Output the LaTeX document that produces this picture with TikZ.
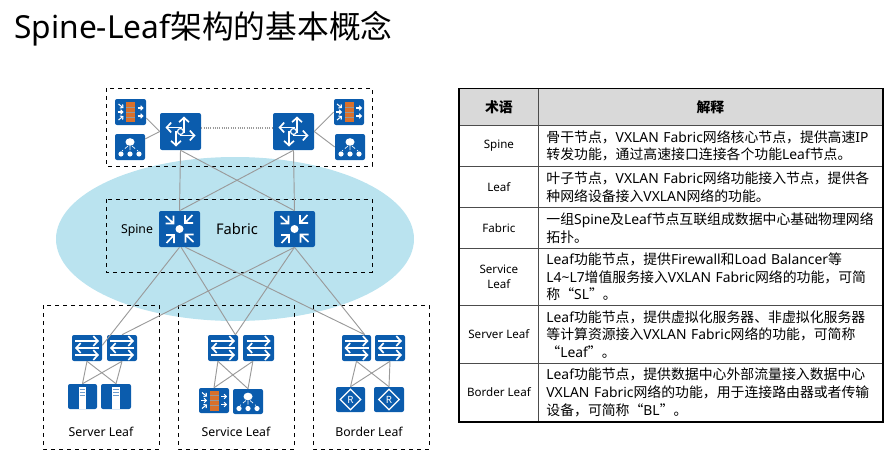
\documentclass[tikz,border=0pt]{standalone}
\usepackage{fontspec}
\setmainfont{Noto Sans}
\newfontfamily\cjk{Noto Sans CJK SC}
\newcommand{\zh}[1]{{\cjk #1}}
\usetikzlibrary{arrows.meta,shapes.geometric}
\definecolor{iconblue}{HTML}{0B5CAD}
\definecolor{wallorange}{HTML}{D9702B}
\definecolor{fabricblue}{HTML}{BAE3EF}
\definecolor{linkgray}{HTML}{9A9A9A}
\definecolor{headgray}{HTML}{D9D9D9}
\tikzset{
	iconbox/.style 2 args={draw=none, fill=iconblue, rounded corners=1.5pt, inner sep=0pt, minimum width=#1*0.75pt, minimum height=#2*0.75pt},
	zonebox/.style={draw=black, dashed, line width=0.6pt},
	link/.style={draw=linkgray, line width=0.7pt},
	glyph/.style={draw=white, line width=1.25pt},
	tip/.style={-{Straight Barb[length=3.4pt,width=7.4pt]}},
	smalltip/.style={-{Straight Barb[length=1.6pt,width=3.4pt]}, line width=0.8pt},
	termcell/.style 2 args={draw=black!70, line width=0.6pt, anchor=north west, inner sep=0pt, align=center, minimum width=79*0.75pt, minimum height=#1*0.75pt, font=\fontsize{8.7}{11.2}\selectfont, fill=#2},
	desccell/.style 2 args={draw=black!70, line width=0.6pt, anchor=north west, inner xsep=6pt, inner ysep=0pt, align=left, text width=328*0.75pt, minimum height=#1*0.75pt, font=\fontsize{10.4}{13.3}\selectfont, fill=#2},
}
\begin{document}
\begin{tikzpicture}[x=0.75pt,y=-0.75pt]
	\useasboundingbox (0,0) rectangle (892,460);
	\node[anchor=west, inner sep=0pt, font=\fontsize{23.8}{28}\selectfont] (title) at (14,29) {Spine-Leaf\zh{架构的基本概念}};

	\node[ellipse, fill=fabricblue, inner sep=0pt, minimum width=358*0.75pt, minimum height=164*0.75pt] (fabric) at (235,239) {};

	\draw[zonebox] (106,88) rectangle (372,166);
	\draw[zonebox] (106,199) rectangle (372,272);
	\draw[zonebox] (43,305) rectangle (159,449);
	\draw[zonebox] (178,305) rectangle (294,449);
	\draw[zonebox] (313,305) rectangle (429,449);

	\node[iconbox={41}{37}] (rtA) at (180.5,131.5) {};
	\node[iconbox={41}{37}] (rtB) at (293.5,131.5) {};
	\node[iconbox={41}{36}] (spA) at (179.5,229) {};
	\node[iconbox={41}{36}] (spB) at (294.5,229) {};

	\node[iconbox={31}{26}] (fwA) at (130.5,112) {};
	\node[iconbox={30}{26}] (lbA) at (130,147) {};
	\node[iconbox={30}{26}] (fwB) at (349,112) {};
	\node[iconbox={30}{26}] (lbB) at (350,147) {};

	\node[iconbox={30}{26}] (swA) at (87,348) {};
	\node[iconbox={30}{26}] (swB) at (122,348) {};
	\node[iconbox={30}{26}] (swC) at (223,348) {};
	\node[iconbox={31}{26}] (swD) at (258.5,348) {};
	\node[iconbox={29}{26}] (swE) at (356.5,348) {};
	\node[iconbox={30}{26}] (swF) at (390,348) {};

	\node[iconbox={29}{25}] (srvA) at (82.5,396.5) {};
	\node[iconbox={30}{25}] (srvB) at (116,396.5) {};
	\node[iconbox={30}{25}] (fwC) at (214,400.5) {};
	\node[iconbox={30}{25}] (lbC) at (248,401.5) {};
	\node[iconbox={29}{25}] (brA) at (350.5,399.5) {};
	\node[iconbox={30}{25}] (brB) at (389,399.5) {};

	\draw[link, densely dotted, line width=1pt] (rtA.10) -- (rtB.170);
	\draw[link] (fwA.-21) -- (rtA.west);
	\draw[link] (lbA.28) -- (rtA.west);
	\draw[link] (fwB.west) -- (rtB.east);
	\draw[link] (lbB.west) -- (rtB.east);
	\draw[link] (rtA.south) -- (spA.north);
	\draw[link] (rtA.south) -- (spB.north);
	\draw[link] (rtB.south) -- (spA.north);
	\draw[link] (rtB.south) -- (spB.north);

	\draw[link] (spA.south) -- (swA.10);
	\draw[link] (spB.south) -- (swB.north);
	\draw[link] (spA.-85) -- (swC.47);
	\draw[link] (spB.south) -- (swC.47);
	\draw[link] (spA.-72) -- (swE.58);
	\draw[link] (spB.south) -- (swE.58);

	\draw[link] (swA.south) -- (srvA.north);
	\draw[link] (swA.south) -- (srvB.north);
	\draw[link] (swB.south) -- (srvA.north);
	\draw[link] (swB.south) -- (srvB.north);
	\draw[link] (swC.-111) -- (fwC.north);
	\draw[link] (swC.-111) -- (lbC.north);
	\draw[link] (swD.-113) -- (fwC.north);
	\draw[link] (swD.-113) -- (lbC.north);
	\draw[link] (swE.south) -- (brA.north);
	\draw[link] (swE.south) -- (brB.north);
	\draw[link] (swF.south) -- (brA.north);
	\draw[link] (swF.south) -- (brB.north);

	\foreach \n in {rtA,rtB} {
		\begin{scope}[shift={(\n.center)}]
			\draw[glyph,tip] (3.5,1) -- (3.5,-15);
			\draw[glyph,tip] (-4.5,-1) -- (-4.5,15);
			\draw[glyph,tip] (1,-4) -- (-15,-4);
			\draw[glyph,tip] (-1,4) -- (15,4);
			\draw[glyph,fill=iconblue,line width=0.9pt] (0,0) circle (3);
		\end{scope}
	}
	\foreach \n in {spA,spB} {
		\begin{scope}[shift={(\n.center)}]
			\foreach \r in {0,90,180,270} {
				\draw[glyph,rotate=\r] (-14,-13) -- (-6,-5.5) (-14,-5.5) -- (-6,-5.5) -- (-6,-13.5);
			}
			\fill[white] (0,0) circle (4);
		\end{scope}
	}
	\foreach \n in {swA,swB,swC,swD,swE,swF} {
		\begin{scope}[shift={(\n.center)}]
			\draw[glyph,tip] (-12,-7) -- (12,-7);
			\draw[glyph,tip] (12,0) -- (-12,0);
			\draw[glyph,tip] (-12,7) -- (12,7);
		\end{scope}
	}
	\foreach \n in {fwA,fwB,fwC} {
		\begin{scope}[shift={(\n.center)}]
			\fill[wallorange] (-4.5,-10) rectangle (4.5,10);
			\foreach \y in {-5,0,5} {
				\draw[black!40,line width=0.25pt] (-4.5,\y) -- (4.5,\y);
			}
			\draw[glyph,smalltip] (-12,-8) -- (-7,-4);
			\draw[glyph,smalltip] (-13,0) -- (-7,0);
			\draw[glyph,smalltip] (-12,8) -- (-7,4);
			\draw[glyph,smalltip] (7,-4) -- (13,-4);
			\draw[glyph,smalltip] (7,4) -- (13,4);
		\end{scope}
	}
	\foreach \n in {lbA,lbB,lbC} {
		\begin{scope}[shift={(\n.center)}]
			\fill[white] (0,-5) ellipse (4.5 and 3.8);
			\fill[white] (-9,7) circle (2.6) (0,7) circle (2.6) (9,7) circle (2.6);
			\draw[white,line width=0.5pt,densely dashed] (-2,-1) -- (-8,4) (0,-1) -- (0,4) (2,-1) -- (8,4);
		\end{scope}
	}
	\foreach \n in {srvA,srvB} {
		\begin{scope}[shift={(\n.center)}]
			\fill[white] (-3.8,-10) rectangle (3.8,12.5);
			\draw[iconblue!60,line width=0.5pt] (-2.8,-7.5) -- (2.8,-7.5) (-2.8,-4.5) -- (2.8,-4.5) (-2.8,-1.5) -- (2.8,-1.5);
		\end{scope}
	}
	\foreach \n in {brA,brB} {
		\begin{scope}[shift={(\n.center)}]
			\node[diamond, draw=white, line width=0.9pt, inner sep=0pt, minimum width=21*0.75pt, minimum height=21*0.75pt, text=white, font=\fontsize{7.5}{8}\selectfont] (r\n) at (0,0) {R};
		\end{scope}
	}

	\node[font=\fontsize{9.2}{11}\selectfont] (lblspine) at (137,230) {Spine};
	\node[font=\fontsize{11}{13}\selectfont] (lblfabric) at (237,229) {Fabric};
	\node[font=\fontsize{9.2}{11}\selectfont] (lblserver) at (101,432) {Server Leaf};
	\node[font=\fontsize{9.2}{11}\selectfont] (lblservice) at (236,432) {Service Leaf};
	\node[font=\fontsize{9.2}{11}\selectfont] (lblborder) at (369,432) {Border Leaf};

	\node[termcell={36.5}{headgray}] (termhead) at (459,88.5) {\fontsize{10.4}{12}\selectfont\zh{\bfseries 术语}};
	\node[desccell={36.5}{headgray}, align=center] (deschead) at (538,88.5) {\zh{\bfseries 解释}};
	\node[termcell={41}{white}] (termspine) at (459,125) {Spine};
	\node[desccell={41}{white}] (descspine) at (538,125) {\zh{骨干节点，}VXLAN Fabric\zh{网络核心节点，提供高速}IP\\\zh{转发功能，通过高速接口连接各个功能}Leaf\zh{节点。}};
	\node[termcell={41}{white}] (termleaf) at (459,166) {Leaf};
	\node[desccell={41}{white}] (descleaf) at (538,166) {\zh{叶子节点，}VXLAN Fabric\zh{网络功能接入节点，提供各}\\\zh{种网络设备接入}VXLAN\zh{网络的功能。}};
	\node[termcell={41}{white}] (termfabric) at (459,207) {Fabric};
	\node[desccell={41}{white}] (descfabric) at (538,207) {\zh{一组}Spine\zh{及}Leaf\zh{节点互联组成数据中心基础物理网络}\\\zh{拓扑。}};
	\node[termcell={57}{white}] (termservice) at (459,248) {Service\\Leaf};
	\node[desccell={57}{white}] (descservice) at (538,248) {Leaf\zh{功能节点，提供}Firewall\zh{和}Load Balancer\zh{等}\\L4\textasciitilde L7\zh{增值服务接入}VXLAN Fabric\zh{网络的功能，可简}\\\zh{称“}SL\zh{”。}};
	\node[termcell={58}{white}] (termserver) at (459,305) {Server Leaf};
	\node[desccell={58}{white}] (descserver) at (538,305) {Leaf\zh{功能节点，提供虚拟化服务器、非虚拟化服务器}\\\zh{等计算资源接入}VXLAN Fabric\zh{网络的功能，可简称}\\\zh{“}Leaf\zh{”。}};
	\node[termcell={58}{white}] (termborder) at (459,363) {Border Leaf};
	\node[desccell={58}{white}] (descborder) at (538,363) {Leaf\zh{功能节点，提供数据中心外部流量接入数据中心}\\VXLAN Fabric\zh{网络的功能，用于连接路由器或者传输}\\\zh{设备，可简称“}BL\zh{”。}};
	\draw[black, line width=1.2pt] (termhead.north west) rectangle (descborder.south east);
\end{tikzpicture}
\end{document}
